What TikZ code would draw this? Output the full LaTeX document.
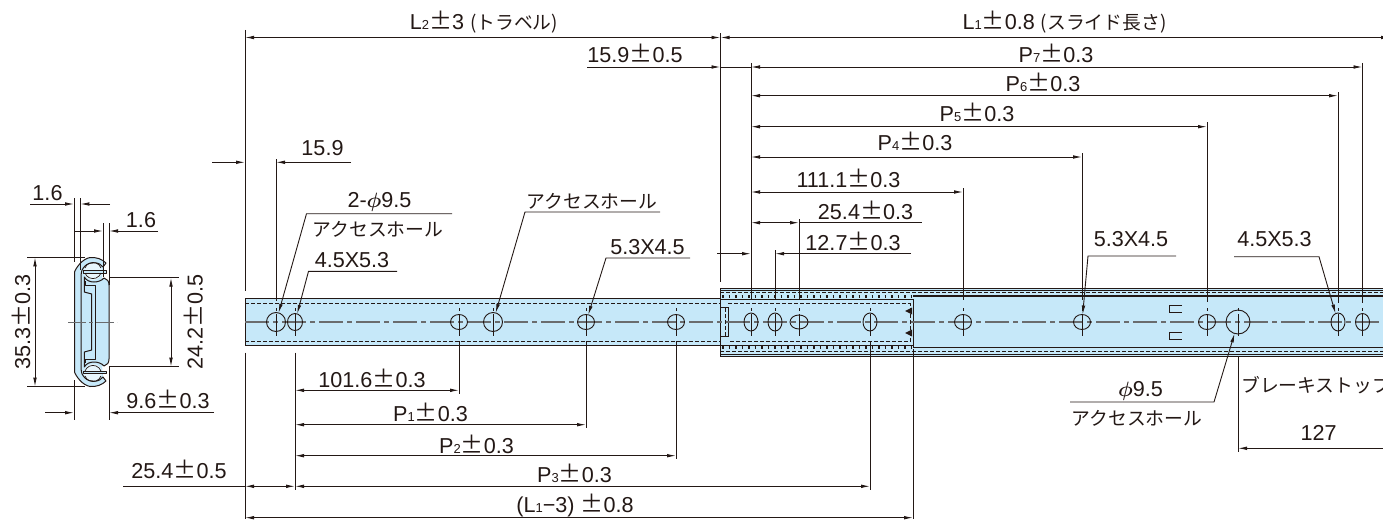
\documentclass[tikz,border=0pt]{standalone}
\usepackage{fontspec}
\setmainfont{Liberation Sans}
\newfontfamily\jpfont{Noto Sans CJK JP}
\usetikzlibrary{arrows.meta, shapes.geometric}

\definecolor{ink}{HTML}{231815}
\definecolor{railblue}{HTML}{C6E8F9}
\definecolor{ballblue}{HTML}{E8F6FD}
\definecolor{cgray}{HTML}{6A6C6E}

\newcommand{\pmj}{{\jpfont\fontsize{23}{23}\selectfont ±}}
\newcommand{\sbs}[1]{{\fontsize{13}{13}\selectfont #1}}
\newcommand{\jp}[1]{{\jpfont\fontsize{18.8}{20}\selectfont #1}}
\newcommand{\dia}{{\boldmath$\phi$}}

\tikzstyle{dimline}=[line width=0.9pt, draw=ink]
\tikzstyle{both}=[dimline, {Latex[length=9pt,width=3.6pt]}-{Latex[length=9pt,width=3.6pt]}]
\tikzstyle{inarrow}=[dimline, -{Latex[length=9pt,width=3.6pt]}]
\tikzstyle{lbl}=[anchor=base, inner sep=0pt, text=ink, font=\fontsize{21.6}{23}\selectfont]
\tikzstyle{hole}=[draw=ink, ellipse, line width=0.9pt, inner sep=0pt, outer sep=0pt]
\tikzstyle{railedge}=[line width=1pt, draw=ink]
\tikzstyle{railhid}=[line width=0.8pt, draw=ink, dash pattern=on 4pt off 2pt]
\tikzstyle{centerln}=[line width=1.2pt, draw=cgray, dash pattern=on 24pt off 4pt on 5pt off 4pt]
\tikzstyle{prof}=[line width=1pt, draw=ink, line join=round]

\begin{document}
\begin{tikzpicture}[x=1pt, y=-1pt]
      \clip (0,0) rectangle (1383,519);

      % rails
      \fill[railblue] (245,298) rectangle (727,345);
      \fill[railblue] (720,288) rectangle (1390,356.5);
      \draw[railedge] (720,298) -- (245,298) -- (245,345) -- (720,345);
      \draw[railedge] (720,288) -- (1390,288);
      \draw[railedge] (720,290.6) -- (1390,290.6);
      \draw[railedge] (720,354) -- (1390,354);
      \draw[railedge] (720,356.5) -- (1390,356.5);
      \draw[railedge] (720,288) -- (720,356.5);
      \draw[railedge] (720,299.5) -- (913,299.5) -- (913,347.5);
      \draw[railedge] (720,345) -- (913,345);
      \draw[line width=1.3pt, draw=ink] (913,296) -- (1390,296);
      \draw[line width=1.3pt, draw=ink] (913,347.5) -- (1390,347.5);
      \draw[railhid] (720,292.8) -- (1390,292.8);
      \draw[railhid] (720,351.7) -- (1390,351.7);
      \draw[line width=3pt, draw=ink, dash pattern=on 1.5pt off 5pt] (722,296.5) -- (912,296.5);
      \draw[line width=3pt, draw=ink, dash pattern=on 1.5pt off 5pt] (722,347.5) -- (912,347.5);

      % hidden end of the inner rail
      \draw[railhid] (245,303.5) -- (720,303.5);
      \draw[railhid] (245,341) -- (720,341);
      \draw[railedge] (720,303.5) -- (720,307.7) -- (728,307.7) -- (728,336) -- (720,336) -- (720,341);
      \draw[railhid] (725,308) -- (725,336);
      \draw[railhid] (728,303.5) -- (910,303.5) -- (910,341) -- (728,341);
      \fill[ink] (905,311) -- (912,307.5) -- (912,314.5) -- cycle;
      \fill[ink] (905,333) -- (912,329.5) -- (912,336.5) -- cycle;

      % stopper tabs
      \draw[dimline] (1182,305) -- (1169.5,305) -- (1169.5,312) -- (1182,312);
      \draw[dimline] (1182,332) -- (1169.5,332) -- (1169.5,339) -- (1182,339);

      \draw[centerln] (245,322) -- (1390,322);

      % holes
      \foreach \n/\x/\w/\h in {ha/276/19/19, hb/295/15/17, hc/459/17/15, hd/493/19/19,
          he/586/17/15, hf/676/17/15, hg/751/14/18, hh/775/14/18, hi/799/18/14,
          hj/870/14/18, hk/963/17/15, hl/1082/17/15, hm/1207/17/15, hn/1238/24/24,
          ho/1338/14/18, hp/1362.5/14/17} {
        \node[hole, minimum width=\w pt, minimum height=\h pt] (\n) at (\x,322) {};
        \draw[line width=0.7pt, draw=ink, dash pattern=on 3pt off 3pt on 22pt off 3pt on 3pt]
          (\x,308) -- (\x,339);
      }
      \coordinate (eL) at (245,322);
      \coordinate (eM) at (720.5,322);
      \coordinate (eE) at (913,322);
      \coordinate (eR) at (1390,322);

      % extension lines
      \foreach \a/\t/\b in {eL/30/291, eL/352.7/519, eM/33.5/281.5, hg/63/299, hh/250/300,
          hi/219/300, hk/188/300, hl/153/300, hm/122/302, ho/92/302.7, hp/63/302.7,
          ha/159/301, hb/352.7/490, hc/341/393.5, he/341/428, hf/341/459,
          hj/341/489.5, eE/349/519, hn/356/452} {
        \draw[dimline] (\a |- 0,\t) -- (\a |- 0,\b);
      }

      % dimensions
      \foreach \a/\b/\y in {eL/eM/37.5, eM/eR/37.5, hg/hp/67, hg/ho/95.7, hg/hm/126.7,
          hg/hl/157, hg/hk/192, hg/hi/222.7, hb/hc/390.3, hb/he/424.7, hb/hf/455.7,
          hb/hj/486.3, eL/hb/486.3, eL/eE/517.7} {
        \draw[both] (\a |- 0,\y) -- (\b |- 0,\y);
      }
      \foreach \s/\a/\y in {212/eL/162.3, 351/ha/162.3, 587/eM/67, 717/hg/253.7,
          911/hh/253.7, 1390/hn/448.3} {
        \draw[inarrow] (\s,\y) -- (\a |- 0,\y);
      }
      \draw[dimline] (eM |- 0,67) -- (hg |- 0,67);
      \draw[dimline] (hi |- 0,222.7) -- (922,222.7);
      \draw[dimline] (123,486.3) -- (eL |- 0,486.3);

      % leaders
      \draw[inarrow] (452,213.7) -- (306.5,213.7) -- (ha);
      \draw[inarrow] (397,271.3) -- (308.5,271.3) -- (hb);
      \draw[inarrow] (660,212) -- (525,212) -- (hd);
      \draw[inarrow] (690,258) -- (606,258) -- (he);
      \draw[inarrow] (1176,256) -- (1088,256) -- (hl);
      \draw[inarrow] (1234,256.7) -- (1319,256.7) -- (ho);
      \draw[inarrow] (1070,402) -- (1214,402) -- (hn);

      % section of the slide
      \fill[railblue] (74.5,322) -- (74.5,272) .. controls (76,268) and (82,259) .. (90,257.5)
        .. controls (96,257) and (102,259) .. (106,263) -- (103,267) -- (102,278) -- (104,278)
        .. controls (107,279) and (109,281) .. (109,285) -- (109,359)
        .. controls (109,363) and (107,365) .. (104,366) -- (102,366) -- (103,377) -- (106,381)
        .. controls (102,385) and (96,387) .. (90,386.5) .. controls (82,385) and (76,376) .. (74.5,372) -- cycle;
      \foreach \s in {1,-1} {
        \begin{scope}[shift={(0,322)}, yscale=\s]
          \fill[ballblue] (93,-51) circle (9);
          \draw[prof] (74.5,0) -- (74.5,-50) .. controls (76,-54) and (82,-63) .. (90,-64.5)
            .. controls (96,-65) and (102,-63) .. (106,-59) -- (103,-55)
            .. controls (100,-60) and (90,-61) .. (85,-56)
            .. controls (82,-53) and (81,-50) .. (81,-47) -- (81,0);
          \draw[prof] (109,0) -- (109,-37) .. controls (109,-41) and (107,-43) .. (104,-44)
            .. controls (100,-39) and (88,-38) .. (84.3,-45) -- (84.3,-30) -- (91.7,-28) -- (91.7,0);
          \draw[prof, line width=0.8pt] (85.7,-41) -- (85.7,-37) -- (95,-37) -- (95,0);
          \draw[prof, line width=0.7pt] (85,-54) arc[start angle=200, end angle=340, radius=8.5];
          \draw[prof, line width=0.7pt] (85,-49) arc[start angle=160, end angle=20, radius=8.5];
          \draw[prof, line width=0.8pt, fill=railblue] (83,-51.5) rectangle (106,-49);
        \end{scope}
      }
      \draw[line width=0.8pt, draw=cgray, dash pattern=on 18pt off 3pt on 4pt off 3pt] (68,322) -- (117,322);
      \foreach \x/\t/\b in {74/198/262, 80.3/198/270, 103/223/277, 109/223/285, 74/380/420, 109/366/420} {
        \draw[dimline] (\x,\t) -- (\x,\b);
      }
      \draw[inarrow] (30,204) -- (74,204);
      \draw[inarrow] (110,204) -- (80.3,204);
      \draw[inarrow] (74,231) -- (103,231);
      \draw[inarrow] (158,231) -- (109,231);
      \draw[inarrow] (45,412.7) -- (74,412.7);
      \draw[inarrow] (214,412.7) -- (109,412.7);
      \draw[dimline] (27,257.3) -- (85,257.3);
      \draw[dimline] (27,386.7) -- (85,386.7);
      \draw[both] (35,257.3) -- (35,386.7);
      \draw[dimline] (109,277.7) -- (179,277.7);
      \draw[dimline] (109,366.7) -- (179,366.7);
      \draw[both] (171,277.7) -- (171,366.7);

      % labels
      \node[lbl] (ltrav) at (484,30) {L\sbs{2}\pmj3 \jp{(トラベル)}};
      \node[lbl] (lslid) at (1064.5,30) {L\sbs{1}\pmj0.8 \jp{(スライド長さ)}};
      \node[lbl] (lgap) at (635,63) {15.9\pmj0.5};
      \node[lbl] (lpvii) at (1056,63) {P\sbs{7}\pmj0.3};
      \node[lbl] (lpvi) at (1043,91) {P\sbs{6}\pmj0.3};
      \node[lbl] (lpv) at (977,121) {P\sbs{5}\pmj0.3};
      \node[lbl] (lpiv) at (915,150) {P\sbs{4}\pmj0.3};
      \node[lbl] (lhole) at (848.5,187) {111.1\pmj0.3};
      \node[lbl] (lpitch) at (865.5,219) {25.4\pmj0.3};
      \node[lbl] (lstep) at (853,250) {12.7\pmj0.3};
      \node[lbl] (lfirst) at (322.5,155) {15.9};
      \node[lbl] (ltwo) at (379.5,207.7) {2-\dia 9.5};
      \node[lbl, anchor=center] (lacca) at (378,229) {\jp{アクセスホール}};
      \node[lbl] (lslota) at (352,267) {4.5X5.3};
      \node[lbl] (laccb) at (592,208) {\jp{アクセスホール}};
      \node[lbl] (lslotb) at (647.5,254) {5.3X4.5};
      \node[lbl] (lslotc) at (1131,246) {5.3X4.5};
      \node[lbl] (lslotd) at (1274.5,246) {4.5X5.3};
      \node[lbl] (lbig) at (1140.5,396) {\dia 9.5};
      \node[lbl, anchor=center] (laccc) at (1137,418) {\jp{アクセスホール}};
      \node[lbl, anchor=west] (lbrake) at (1241,385) {\jp{ブレーキストップ}};
      \node[lbl] (lstop) at (1318.5,440) {127};
      \node[lbl] (lci) at (372,387.7) {101.6\pmj0.3};
      \node[lbl] (lpi) at (430.5,421.7) {P\sbs{1}\pmj0.3};
      \node[lbl] (lpii) at (476.5,453) {P\sbs{2}\pmj0.3};
      \node[lbl] (lpiii) at (574.5,482) {P\sbs{3}\pmj0.3};
      \node[lbl] (lstart) at (179,478) {25.4\pmj0.5};
      \node[lbl] (ltot) at (575,512) {(L\sbs{1}−3) \pmj0.8};
      \node[lbl] (lwidth) at (168,408) {9.6\pmj0.3};
      \node[lbl] (lthka) at (47.5,200) {1.6};
      \node[lbl] (lthkb) at (141,227) {1.6};
      \node[lbl, anchor=center, rotate=90] (lheight) at (21,322) {35.3\pmj0.3};
      \node[lbl, anchor=center, rotate=90] (lbore) at (193.5,322) {24.2\pmj0.5};
    \end{tikzpicture}
\end{document}
